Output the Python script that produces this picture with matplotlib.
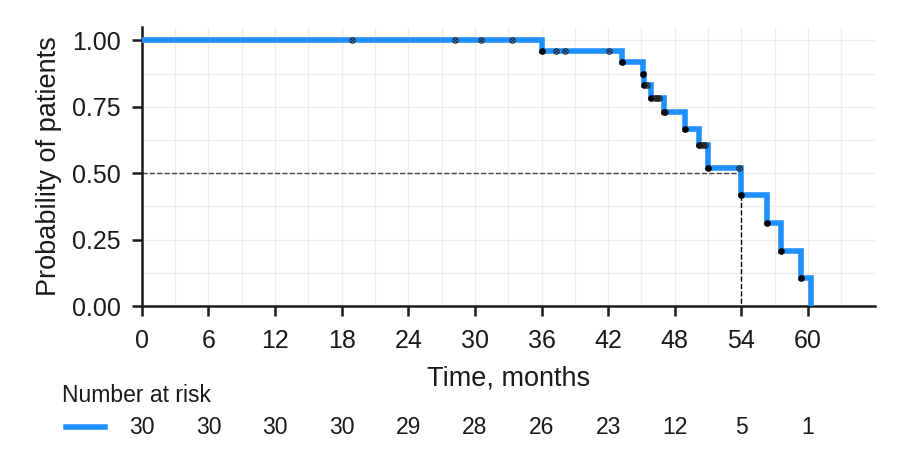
import matplotlib
matplotlib.use("Agg")
import matplotlib.pyplot as plt
import matplotlib.transforms as mtransforms
import numpy as np

# follow-up times in months, 1 = event, 0 = censored
times = [18.9, 28.2, 30.5, 33.3, 36.0, 37.3, 38.1, 42.1, 43.2, 45.1,
         45.2, 45.5, 45.9, 46.2, 46.4, 46.6, 47.0, 47.1, 48.9, 50.2,
         50.3, 50.5, 50.7, 51.0, 53.8, 54.0, 56.3, 57.6, 59.4, 60.3]
events = [0, 0, 0, 0, 1, 0, 0, 0, 1, 1,
          1, 0, 1, 0, 0, 0, 1, 0, 1, 1,
          0, 0, 0, 1, 0, 1, 1, 1, 1, 1]

risk_times = [0, 6, 12, 18, 24, 30, 36, 42, 48, 54, 60]
at_risk = [30, 30, 30, 30, 29, 28, 26, 23, 12, 5, 1]

blue = "#1E90FF"
ink = "#1a1a1a"
plt.rcParams["font.family"] = ["Liberation Sans", "DejaVu Sans"]


def kaplan_meier(t, e):
    t = np.asarray(t)
    e = np.asarray(e)
    order = np.argsort(t, kind="stable")
    t, e = t[order], e[order]
    s = 1.0
    st, sv = [0.0], [1.0]
    ev_t, ev_s, ce_t, ce_s = [], [], [], []
    n = len(t)
    for i in range(n):
        if e[i] == 1:
            s *= (n - i - 1) / (n - i)
            st.append(t[i])
            sv.append(s)
            if s > 0:
                ev_t.append(t[i])
                ev_s.append(s)
        else:
            ce_t.append(t[i])
            ce_s.append(s)
    return st, sv, ev_t, ev_s, ce_t, ce_s


st, sv, ev_t, ev_s, ce_t, ce_s = kaplan_meier(times, events)
median = next(x for x, y in zip(st, sv) if y <= 0.5)

fig = plt.figure(figsize=(8.98, 4.5), dpi=100)
ax = fig.add_axes([0.158, 0.32, 0.816, 0.62])

ax.step(st, sv, where="post", color=blue, lw=4, zorder=3, solid_joinstyle="miter")
ax.plot(ev_t, ev_s, "o", color="black", ms=3.8, zorder=4)
ax.plot(ce_t, ce_s, "o", mfc="none", mec="#222222", ms=4, mew=0.7, zorder=4)
ax.plot(ce_t, ce_s, "x", color="#222222", ms=3.2, mew=0.7, zorder=4)

ax.plot([0, median], [0.5, 0.5], ls="--", color="#444444", lw=1, zorder=2)
ax.plot([median, median], [0.5, 0], ls="--", color="black", lw=1, zorder=2)

ax.set_xlim(0, 66)
ax.set_ylim(0, 1.05)
ax.set_xticks(risk_times)
ax.set_yticks([0, 0.25, 0.5, 0.75, 1.0])
ax.set_yticklabels(["0.00", "0.25", "0.50", "0.75", "1.00"])
ax.set_xticks(np.arange(0, 66, 3), minor=True)
ax.set_yticks(np.arange(0, 1.05, 0.125), minor=True)
ax.grid(True, which="both", color="#EDEDED", lw=0.9, zorder=0)
ax.tick_params(which="minor", length=0)
ax.tick_params(which="major", length=7, width=1.8, labelsize=18,
               colors=ink)
ax.tick_params(axis="x", pad=9.5)
ax.tick_params(axis="y", pad=8)
for side in ["top", "right"]:
    ax.spines[side].set_visible(False)
for side in ["left", "bottom"]:
    ax.spines[side].set_linewidth(1.8)
    ax.spines[side].set_color(ink)

ax.set_xlabel("Time, months", fontsize=19.5, color=ink, labelpad=9)
ax.set_ylabel("Probability of patients", fontsize=19.5, color=ink, labelpad=7)

# number at risk table
trans = mtransforms.blended_transform_factory(ax.transData, fig.transFigure)
fig.text(62 / 898, 1 - 395 / 450, "Number at risk", fontsize=16.5,
         color=ink, va="center", ha="left")
fig.add_artist(plt.Line2D([66 / 898, 105 / 898], [1 - 427 / 450] * 2,
                          color=blue, lw=4))
for x, n in zip(risk_times, at_risk):
    ax.text(x, 1 - 427 / 450, str(n), transform=trans, ha="center",
            va="center", fontsize=16.5, color=ink, clip_on=False)

fig.savefig("out.png", dpi=100)
